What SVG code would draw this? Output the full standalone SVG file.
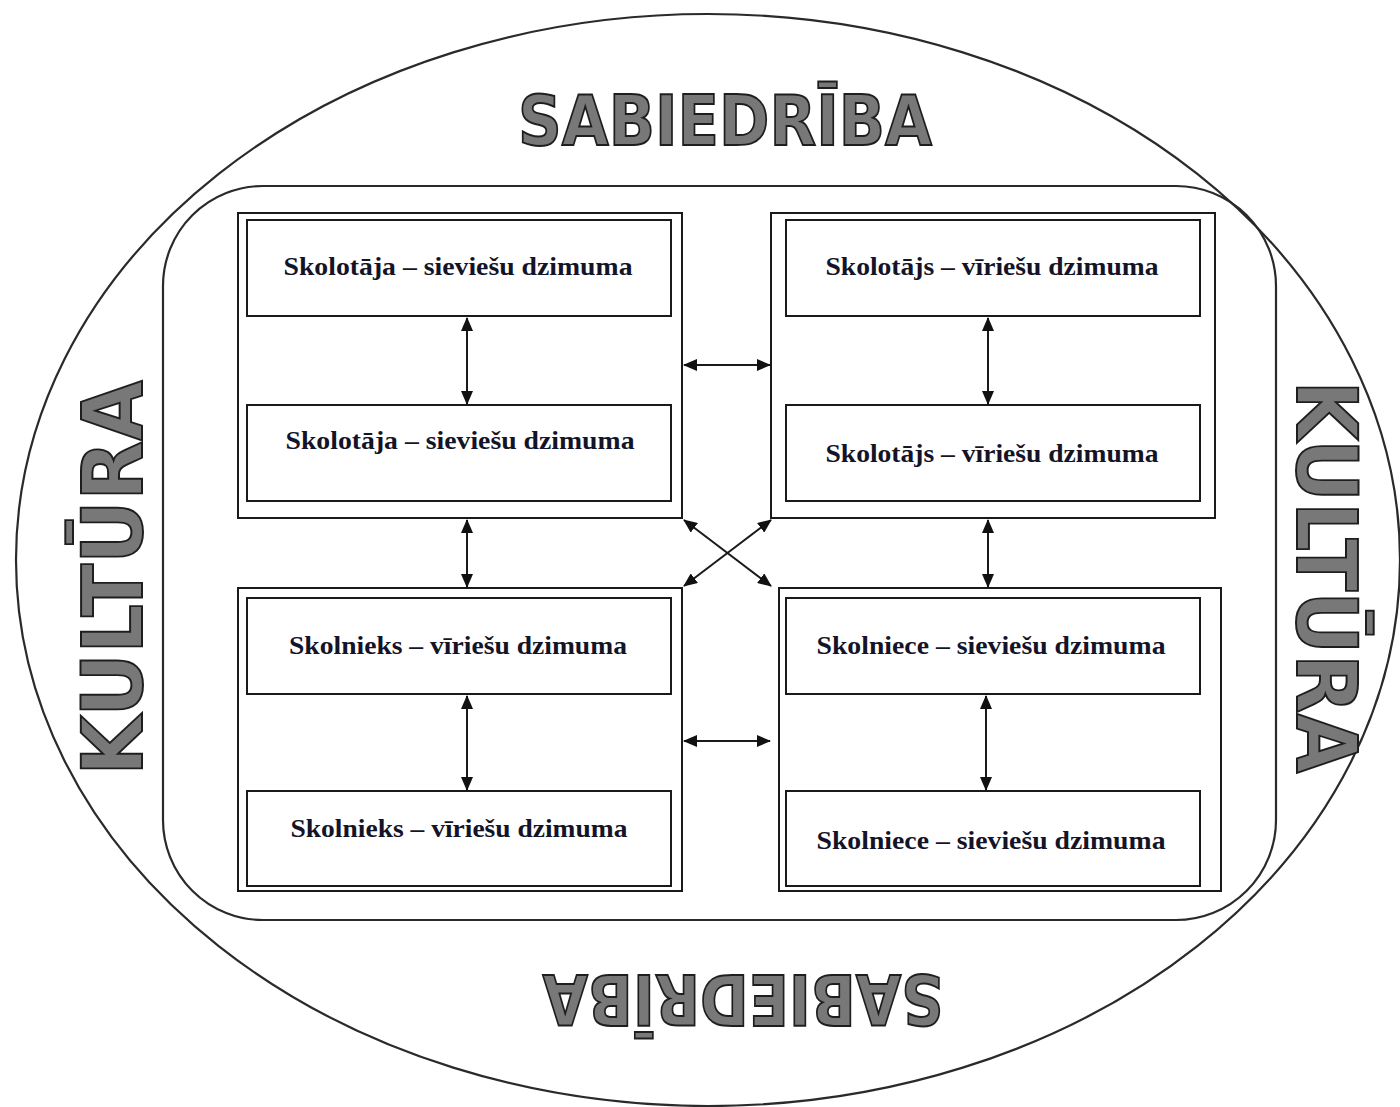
<svg xmlns="http://www.w3.org/2000/svg" width="1400" height="1107" viewBox="0 0 1400 1107">
<style>
.line{fill:none;stroke:#2a2a2a;stroke-width:2.2}
.box{fill:#fff;stroke:#1a1a1a;stroke-width:2}
.lbl{font-family:"Liberation Serif","Times New Roman",serif;font-weight:bold;font-size:26px;fill:#141428;text-anchor:middle}
.big{font-family:"DejaVu Sans","Liberation Sans",sans-serif;font-weight:bold;fill:#787878;stroke:#1e1e1e;stroke-width:2;text-anchor:middle}
.conn{stroke:#1a1a1a;stroke-width:2;fill:none;marker-start:url(#ah);marker-end:url(#ah)}
</style>
<defs>
<marker id="ah" viewBox="0 0 14 12" refX="13" refY="6" markerWidth="14" markerHeight="12" markerUnits="userSpaceOnUse" orient="auto-start-reverse">
<path d="M0,0 L14,6 L0,12 Z" fill="#111"/>
</marker>
</defs>
<rect width="1400" height="1107" fill="#fff"/>
<g id="society">
<ellipse class="line" cx="708" cy="560" rx="692" ry="546"/>
<text class="big" x="725" y="145" font-size="70" textLength="414" lengthAdjust="spacingAndGlyphs">SABIEDRĪBA</text>
<text class="big" transform="translate(743,975) rotate(180)" font-size="70" textLength="401" lengthAdjust="spacingAndGlyphs">SABIEDRĪBA</text>
</g>
<g id="culture">
<rect class="line" x="163" y="186" width="1113" height="734" rx="100" ry="100"/>
<text class="big" transform="translate(142,578) rotate(-90)" font-size="84" textLength="395" lengthAdjust="spacingAndGlyphs">KULTŪRA</text>
<text class="big" transform="translate(1297,577) rotate(90)" font-size="84" textLength="393" lengthAdjust="spacingAndGlyphs">KULTŪRA</text>
</g>
<g id="teachers-f">
<rect class="box" x="238" y="213" width="444" height="305"/>
<rect class="box" x="247" y="220" width="424" height="96"/>
<text class="lbl" x="458" y="275" textLength="349" lengthAdjust="spacingAndGlyphs">Skolotāja – sieviešu dzimuma</text>
<rect class="box" x="247" y="405" width="424" height="96"/>
<text class="lbl" x="460" y="449" textLength="349" lengthAdjust="spacingAndGlyphs">Skolotāja – sieviešu dzimuma</text>
</g>
<g id="teachers-m">
<rect class="box" x="771" y="213" width="444" height="305"/>
<rect class="box" x="786" y="220" width="414" height="96"/>
<text class="lbl" x="992" y="275" textLength="333" lengthAdjust="spacingAndGlyphs">Skolotājs – vīriešu dzimuma</text>
<rect class="box" x="786" y="405" width="414" height="96"/>
<text class="lbl" x="992" y="462" textLength="333" lengthAdjust="spacingAndGlyphs">Skolotājs – vīriešu dzimuma</text>
</g>
<g id="pupils-m">
<rect class="box" x="238" y="588" width="444" height="303"/>
<rect class="box" x="247" y="598" width="424" height="96"/>
<text class="lbl" x="458" y="654" textLength="338" lengthAdjust="spacingAndGlyphs">Skolnieks – vīriešu dzimuma</text>
<rect class="box" x="247" y="791" width="424" height="95"/>
<text class="lbl" x="459" y="837" textLength="337" lengthAdjust="spacingAndGlyphs">Skolnieks – vīriešu dzimuma</text>
</g>
<g id="pupils-f">
<rect class="box" x="779" y="588" width="442" height="303"/>
<rect class="box" x="786" y="598" width="414" height="96"/>
<text class="lbl" x="991" y="654" textLength="349" lengthAdjust="spacingAndGlyphs">Skolniece – sieviešu dzimuma</text>
<rect class="box" x="786" y="791" width="414" height="95"/>
<text class="lbl" x="991" y="849" textLength="349" lengthAdjust="spacingAndGlyphs">Skolniece – sieviešu dzimuma</text>
</g>
<g id="connectors">
<line class="conn" x1="467" y1="318" x2="467" y2="404"/>
<line class="conn" x1="988" y1="318" x2="988" y2="404"/>
<line class="conn" x1="684" y1="365" x2="770" y2="365"/>
<line class="conn" x1="467" y1="520" x2="467" y2="587"/>
<line class="conn" x1="988" y1="520" x2="988" y2="587"/>
<line class="conn" x1="684" y1="520" x2="771" y2="586"/>
<line class="conn" x1="771" y1="520" x2="684" y2="586"/>
<line class="conn" x1="467" y1="696" x2="467" y2="790"/>
<line class="conn" x1="986" y1="696" x2="986" y2="790"/>
<line class="conn" x1="684" y1="741" x2="770" y2="741"/>
</g>
</svg>
